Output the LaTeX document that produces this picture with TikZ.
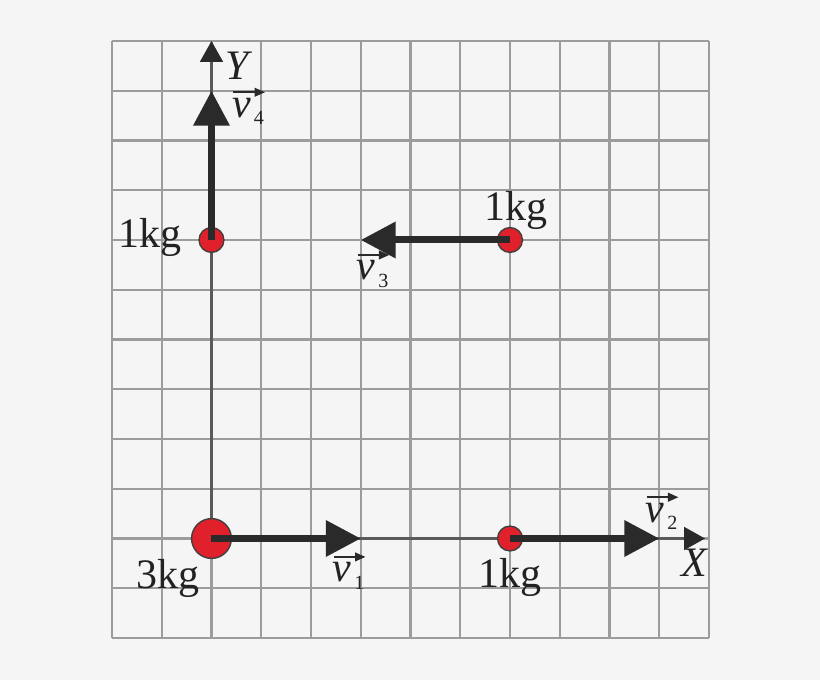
\documentclass[tikz,border=0pt]{standalone}
\usepackage{fontspec}
\setmainfont{Liberation Serif}
\usetikzlibrary{arrows.meta}
\definecolor{bg}{HTML}{F5F5F5}
\definecolor{gridc}{HTML}{9C9C9C}
\definecolor{axisc}{HTML}{5A5A5A}
\definecolor{arrc}{HTML}{2A2A2A}
\definecolor{massred}{HTML}{E0202A}
\definecolor{txt}{HTML}{222222}
\begin{document}
\begin{tikzpicture}[
 gridline/.style={draw=gridc, line width=1.2pt},
 axisline/.style={draw=axisc, line width=1.6pt, -{Triangle[length=12pt,width=13pt,color=arrc]}},
 vel/.style={draw=arrc, line width=4pt, -{Triangle[length=20pt,width=20pt]}},
 mass/.style={circle, fill=massred, draw=black!75, line width=0.8pt, inner sep=0pt},
 bigmass/.style={mass, minimum size=0.8cm},
 smallmass/.style={mass, minimum size=0.5cm},
 lbl/.style={font=\fontsize{24}{24}\selectfont, anchor=base, inner sep=0pt, text=txt},
 vlab/.style={font=\fontsize{24}{24}\selectfont\itshape, anchor=base, inner sep=0pt, text=txt},
 sublab/.style={font=\fontsize{11.5}{11.5}\selectfont, anchor=base west, inner sep=0pt, text=txt},
 vecarr/.style={draw=arrc, line width=1pt, -{Triangle[length=6pt,width=5pt]}},
]
\fill[bg] (-2.251,-0.844) rectangle (14.231,12.824);
\useasboundingbox (-2.251,-0.844) rectangle (14.231,12.824);
\draw[gridline] (0,0) grid (12,12);
% coordinates
\coordinate (O) at (2,2);
\coordinate (Ytip) at (2,12);
\coordinate (Xtip) at (11.92,2);
\coordinate (t1) at (5,2);
\coordinate (t2) at (11,2);
\coordinate (t3) at (5,8);
\coordinate (t4) at (2,11);
% axes
\draw[axisline] (O) -- (Ytip);
\draw[axisline] (O) -- (Xtip);
% masses
\node[bigmass] (m3) at (O) {};
\node[smallmass] (mA) at (2,8) {};
\node[smallmass] (mB) at (8,8) {};
\node[smallmass] (mC) at (8,2) {};
% velocities
\draw[vel] (m3.center) -- (t1);
\draw[vel] (mC.center) -- (t2);
\draw[vel] (mB.center) -- (t3);
\draw[vel] (mA.center) -- (t4);
% mass labels
\node[lbl] (l3) at (1.13,1.0) {3kg};
\node[lbl] (lA) at (0.76,7.84) {1kg};
\node[lbl] (lB) at (8.12,8.4) {1kg};
\node[lbl] (lC) at (8.0,1.02) {1kg};
% axis labels
\node[vlab] (ylab) at (2.51,11.22) {Y};
\node[vlab] (xlab) at (11.7,1.23) {X};
% velocity labels
\node[vlab] (v1) at (4.62,1.13) {v};
\node[sublab] (s1) at ([xshift=1.5pt,yshift=-4.5pt]v1.base east) {1};
\node[vlab] (v2) at (10.91,2.33) {v};
\node[sublab] (s2) at ([xshift=1.5pt,yshift=-4.5pt]v2.base east) {2};
\node[vlab] (v3) at (5.1,7.2) {v};
\node[sublab] (s3) at ([xshift=1.5pt,yshift=-4.5pt]v3.base east) {3};
\node[vlab] (v4) at (2.6,10.47) {v};
\node[sublab] (s4) at ([xshift=1.5pt,yshift=-4.5pt]v4.base east) {4};
\foreach \v in {v1,v2,v3,v4}{
  \coordinate (\v a) at ([xshift=1pt,yshift=3pt]\v.north west);
  \coordinate (\v b) at ([xshift=8pt,yshift=3pt]\v.north east);
  \draw[vecarr] (\v a) -- (\v b);
}
\end{tikzpicture}
\end{document}
